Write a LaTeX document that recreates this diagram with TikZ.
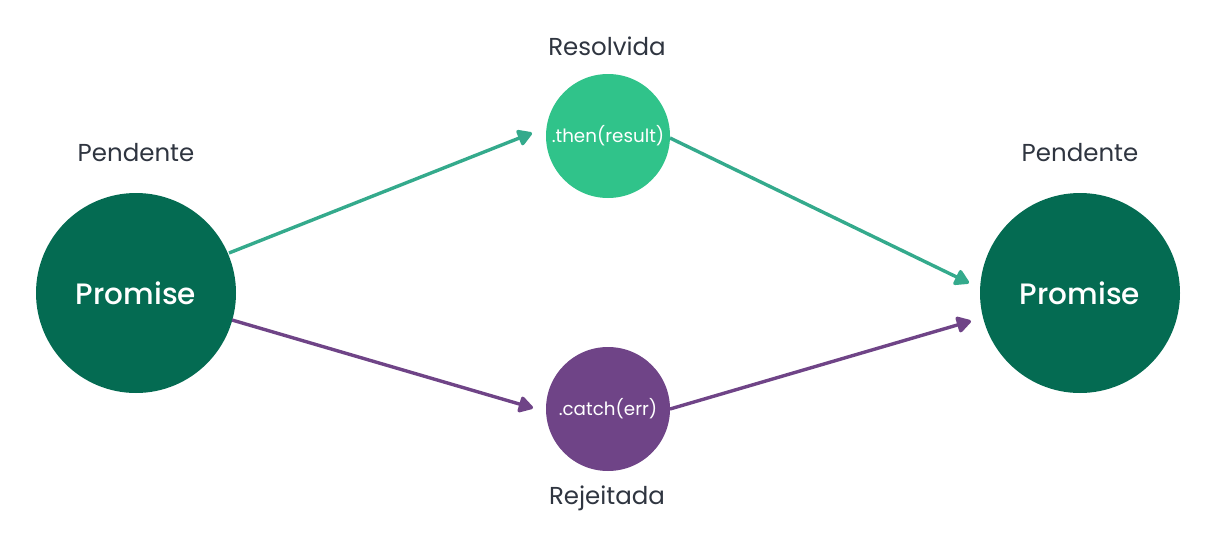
\documentclass[tikz,border=0pt]{standalone}
\usepackage{fontspec}
\setmainfont{Poppins}
\newfontfamily\pmed{Poppins}[UprightFont=* Medium]
\usetikzlibrary{arrows.meta,calc}
\definecolor{dkgreen}{HTML}{046B52}
\definecolor{ltgreen}{HTML}{30C38A}
\definecolor{argreen}{HTML}{34AA8C}
\definecolor{purp}{HTML}{6F4487}
\definecolor{txt}{HTML}{2F3540}
\tikzset{
  bigc/.style={circle, fill=dkgreen, minimum size=200pt, inner sep=0pt, text=white, font=\pmed\fontsize{29.5}{34}\selectfont},
  smallc/.style={circle, minimum size=124pt, inner sep=0pt, text=white, font=\fontsize{18.3}{22}\selectfont},
  lbl/.style={text=txt, font=\fontsize{24.5}{29}\selectfont},
  arr/.style={line width=3.4pt, -{Triangle[round,length=16pt,width=18pt]}}
}
\begin{document}
\begin{tikzpicture}[x=1pt,y=-1pt]
\useasboundingbox (0,0) rectangle (1216,546);
\node[bigc] (L) at (136,293) {Promise};
\node[bigc] (R) at (1080,293) {Promise};
\node[smallc, fill=ltgreen] (T) at (608,136) {.then(result)};
\node[smallc, fill=purp] (B) at (608,409) {.catch(err)};
\node[lbl] (lp) at (136,153) {Pendente};
\node[lbl] (rp) at (1080,153) {Pendente};
\node[lbl] (tl) at (607,46) {Resolvida};
\node[lbl] (bl) at (607,498) {Rejeitada};
\draw[arr, argreen] ($(L)+(93,-40)$) -- ($(T)+(-76,-3)$);
\draw[arr, argreen] ($(T)+(62,2)$) -- ($(R)+(-111,-10)$);
\draw[arr, purp] ($(L)+(96,27)$) -- ($(B)+(-75,-1)$);
\draw[arr, purp] ($(B)+(62,0)$) -- ($(R)+(-109,28)$);
\end{tikzpicture}
\end{document}
